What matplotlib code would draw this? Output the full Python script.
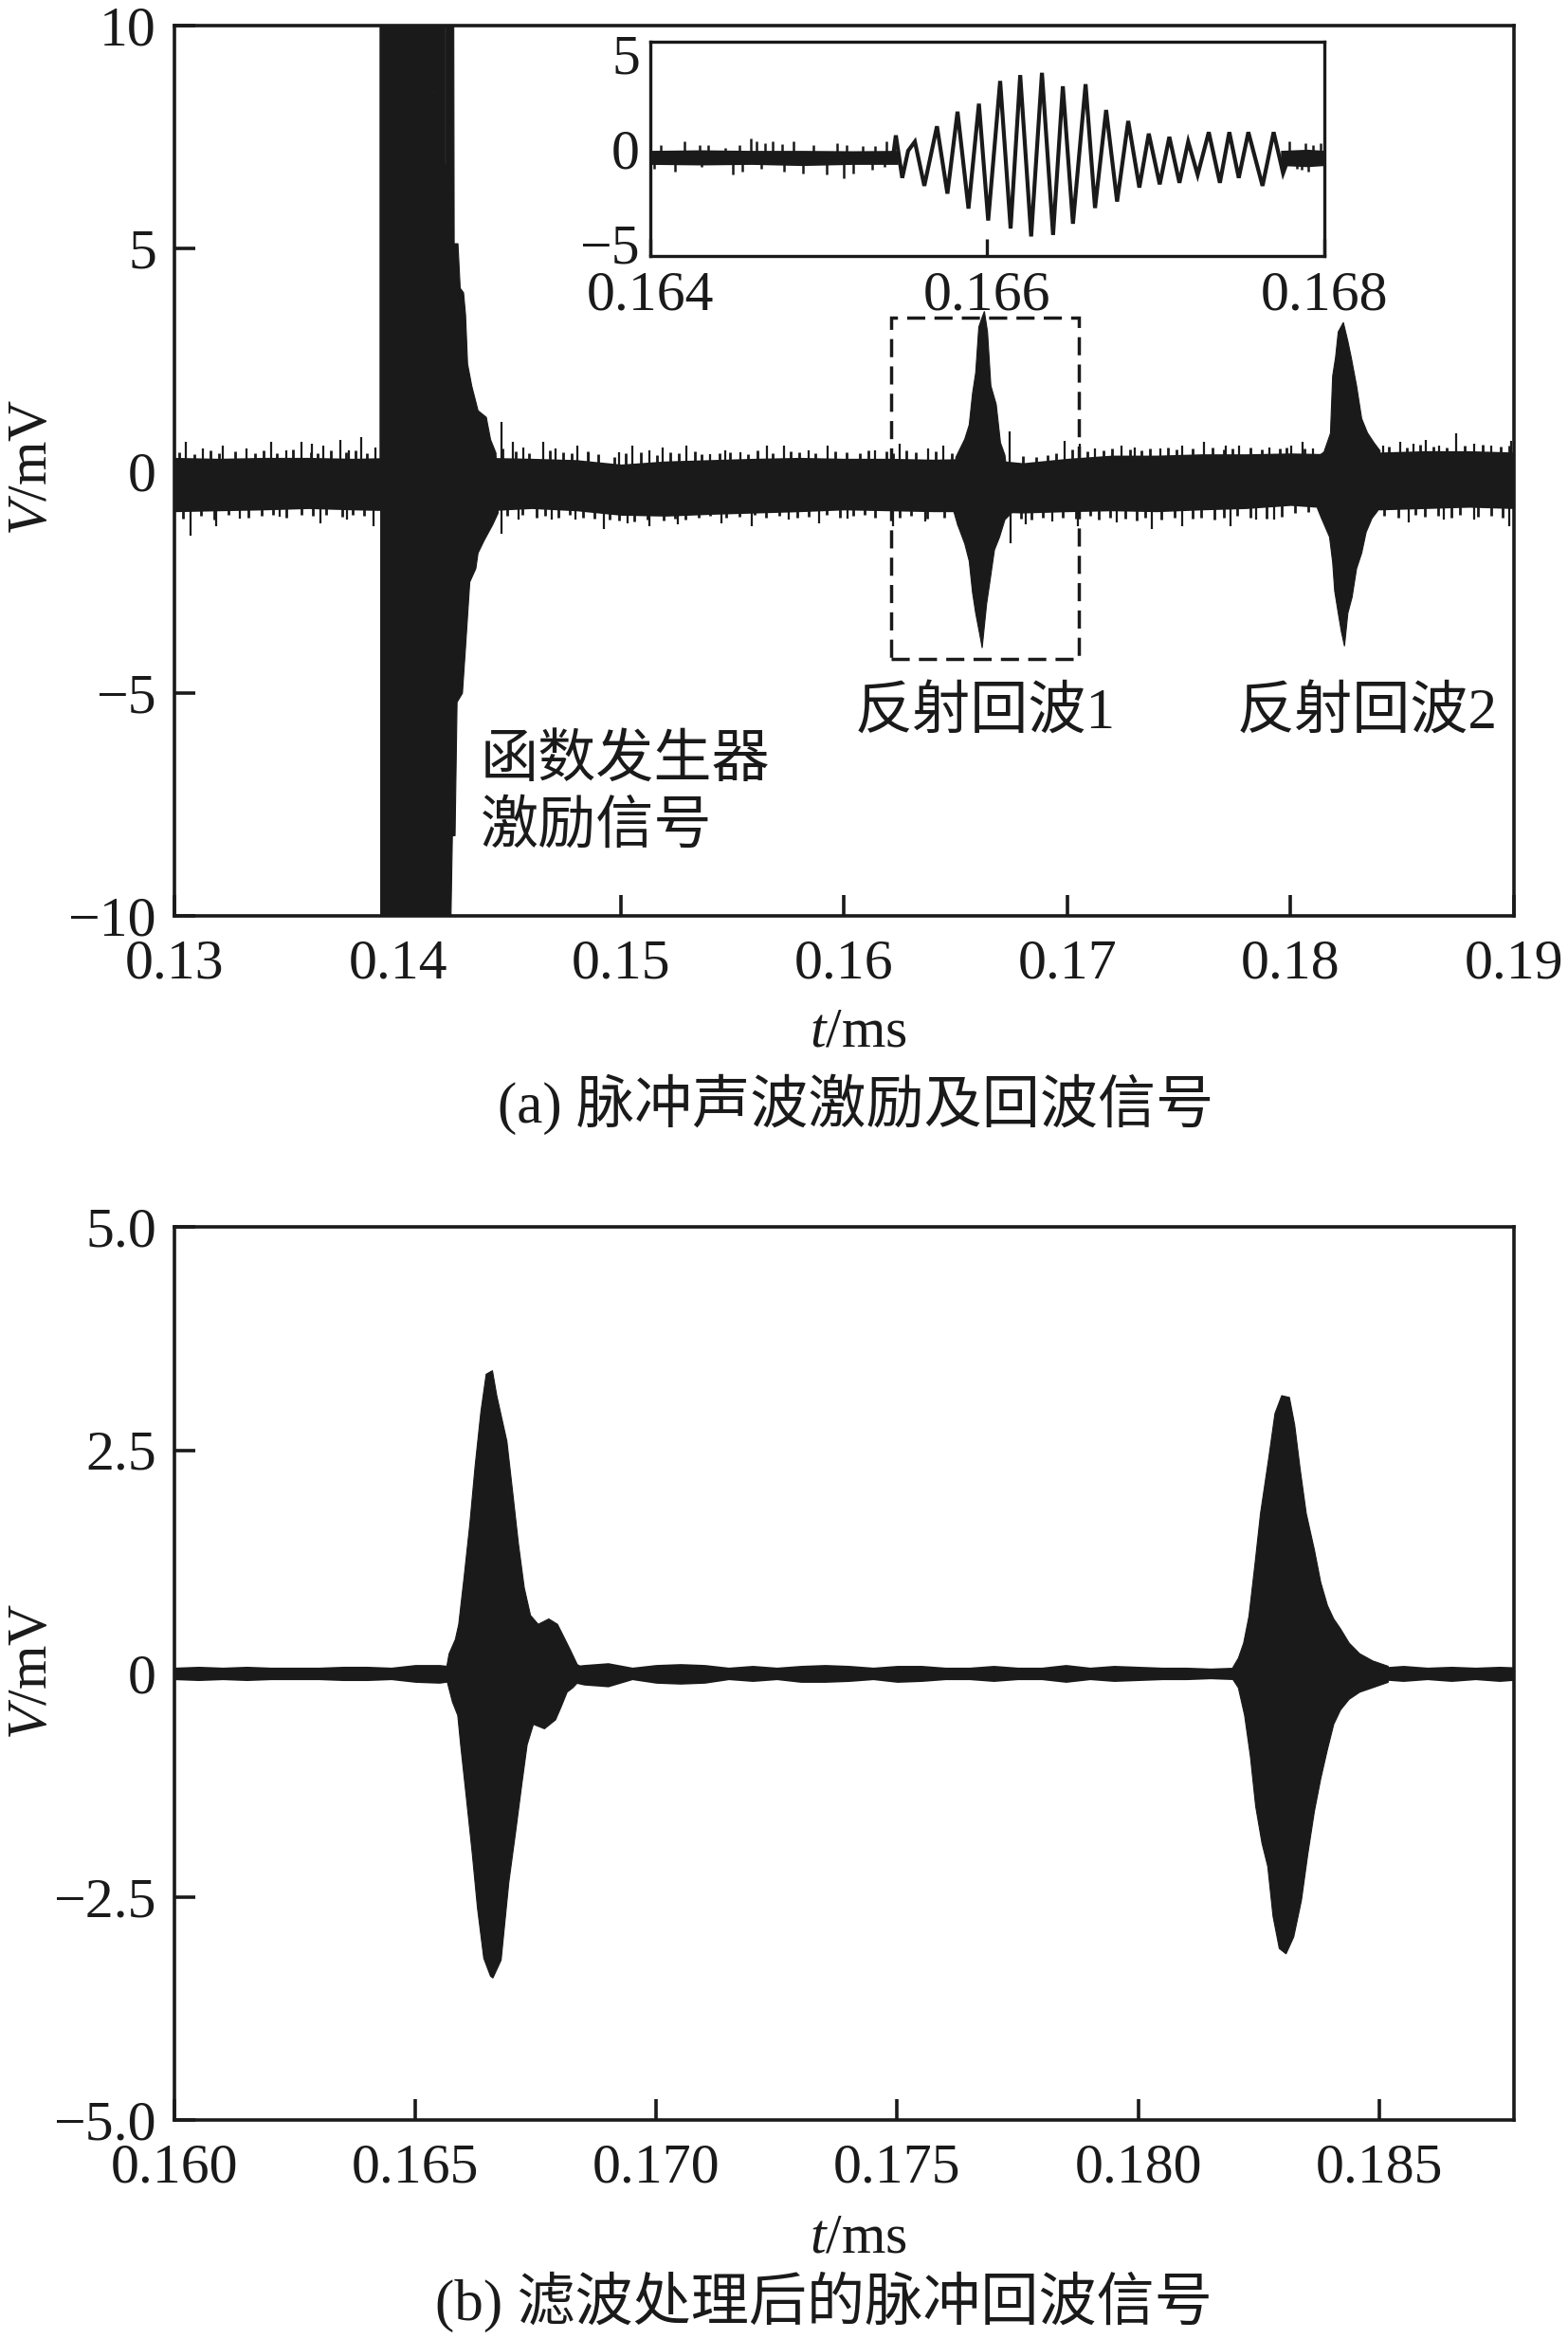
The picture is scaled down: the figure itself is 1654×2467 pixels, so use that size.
import numpy as np
import matplotlib
matplotlib.use('Agg')
import matplotlib.pyplot as plt
from matplotlib.patches import Rectangle

# ---------------- data ----------------
# (a) raw signal: dense noise core
band_t  = [0.130, 0.132, 0.134, 0.136, 0.138, 0.140, 0.142, 0.144, 0.146, 0.148, 0.150,
           0.152, 0.154, 0.156, 0.158, 0.160, 0.162, 0.164, 0.166, 0.168, 0.170, 0.172,
           0.174, 0.176, 0.178, 0.180, 0.182, 0.184, 0.186, 0.188, 0.190]
band_hi = [0.30, 0.28, 0.30, 0.30, 0.28, 0.30, 0.30, 0.30, 0.28, 0.25, 0.15,
           0.22, 0.25, 0.28, 0.30, 0.28, 0.28, 0.26, 0.28, 0.18, 0.28, 0.35,
           0.35, 0.38, 0.38, 0.40, 0.38, 0.42, 0.45, 0.45, 0.42]
band_lo = [-0.92, -0.90, -0.88, -0.85, -0.88, -0.90, -0.90, -0.90, -0.85, -0.90, -1.00,
           -1.02, -0.98, -0.95, -0.92, -0.88, -0.90, -0.92, -0.92, -0.95, -0.92, -0.90,
           -0.92, -0.88, -0.85, -0.78, -0.85, -0.88, -0.85, -0.82, -0.85]
# tall noise spikes
spk_up_t = [0.13051, 0.13129, 0.13217, 0.13324, 0.13432, 0.13500, 0.13568, 0.13617, 0.13666,
            0.13744, 0.13783, 0.13837, 0.13900, 0.14465, 0.14514, 0.14563, 0.14650, 0.14709,
            0.14806, 0.14855, 0.14992, 0.15050, 0.15128, 0.15186, 0.15294, 0.15401, 0.15469,
            0.15537, 0.15654, 0.15732, 0.15840, 0.15927, 0.16140, 0.16247, 0.16374, 0.16442,
            0.16740, 0.16988, 0.17057, 0.17125, 0.17242, 0.17300, 0.17417, 0.17515, 0.17612,
            0.17710, 0.17768, 0.17905, 0.18002, 0.18051, 0.18100, 0.18412, 0.18490, 0.18548,
            0.18607, 0.18665, 0.18743, 0.18821, 0.18899, 0.18987]
spk_up_v = [0.64, 0.49, 0.57, 0.49, 0.64, 0.46, 0.64, 0.60, 0.57,
            0.70, 0.46, 0.76, 0.53, 1.10, 0.64, 0.53, 0.64, 0.49,
            0.57, 0.40, 0.42, 0.57, 0.46, 0.53, 0.57, 0.38, 0.46,
            0.42, 0.57, 0.57, 0.46, 0.57, 0.46, 0.60, 0.49, 0.57,
            0.88, 0.67, 0.60, 0.49, 0.57, 0.53, 0.49, 0.57, 0.64,
            0.57, 0.57, 0.53, 0.57, 0.64, 0.49, 0.57, 0.64, 0.60,
            0.70, 0.57, 0.85, 0.60, 0.57, 0.67]
spk_dn_t = [0.13071, 0.13188, 0.13295, 0.13471, 0.13656, 0.13773, 0.13890, 0.14465, 0.14543,
            0.14689, 0.14797, 0.14923, 0.15030, 0.15128, 0.15255, 0.15450, 0.15586, 0.15752,
            0.15888, 0.16013, 0.16218, 0.16364, 0.16511, 0.16745, 0.16813, 0.16930, 0.17047,
            0.17222, 0.17378, 0.17515, 0.17729, 0.17846, 0.17924, 0.18529, 0.18685, 0.18821,
            0.18977]
spk_dn_v = [-1.46, -1.25, -1.07, -1.04, -1.18, -1.10, -1.25, -1.42, -1.10,
            -1.10, -1.10, -1.32, -1.18, -1.25, -1.21, -1.18, -1.25, -1.10,
            -1.18, -1.07, -1.25, -1.14, -1.25, -1.64, -1.21, -1.14, -1.25,
            -1.17, -1.32, -1.25, -1.25, -1.10, -1.10, -1.17, -1.10, -1.10,
            -1.25]
# shorter noise spikes (the ragged edge of the band)
spk2_up_t = [0.1302, 0.1309, 0.1316, 0.1320, 0.1327, 0.1336, 0.1340, 0.1346, 0.1353, 0.1361,
             0.1364, 0.1370, 0.1377, 0.1381, 0.1386, 0.1447, 0.1453, 0.1459, 0.1468, 0.1474,
             0.1478, 0.1485, 0.1490, 0.1497, 0.1502, 0.1509, 0.1516, 0.1522, 0.1526, 0.1533,
             0.1536, 0.1544, 0.1549, 0.1557, 0.1561, 0.1568, 0.1576, 0.1580, 0.1587, 0.1596,
             0.1601, 0.1607, 0.1611, 0.1619, 0.1622, 0.1628, 0.1632, 0.1641, 0.1648, 0.1652,
             0.1680, 0.1686, 0.1691, 0.1695, 0.1702, 0.1709, 0.1716, 0.1720, 0.1728, 0.1733,
             0.1737, 0.1745, 0.1749, 0.1756, 0.1765, 0.1770, 0.1774, 0.1782, 0.1787, 0.1795,
             0.1798, 0.1806, 0.1844, 0.1852, 0.1858, 0.1864, 0.1870, 0.1878, 0.1886, 0.1894,
             0.1898]
spk2_up_v = [0.42, 0.38, 0.45, 0.40, 0.44, 0.40, 0.46, 0.40, 0.48, 0.42,
             0.40, 0.46, 0.42, 0.45, 0.40, 0.50, 0.44, 0.40, 0.46, 0.42,
             0.40, 0.44, 0.38, 0.30, 0.40, 0.42, 0.36, 0.42, 0.40, 0.44,
             0.38, 0.40, 0.42, 0.38, 0.45, 0.40, 0.44, 0.42, 0.40, 0.44,
             0.42, 0.40, 0.45, 0.44, 0.40, 0.46, 0.42, 0.44, 0.40, 0.42,
             0.34, 0.30, 0.36, 0.40, 0.48, 0.44, 0.46, 0.50, 0.48, 0.46,
             0.50, 0.52, 0.48, 0.50, 0.52, 0.48, 0.50, 0.52, 0.48, 0.50,
             0.52, 0.50, 0.55, 0.52, 0.58, 0.55, 0.52, 0.56, 0.58, 0.54,
             0.56]
spk2_dn_t = [0.1304, 0.1312, 0.1318, 0.1324, 0.1333, 0.1339, 0.1344, 0.1350, 0.1357, 0.1362,
             0.1368, 0.1375, 0.1380, 0.1385, 0.1449, 0.1456, 0.1462, 0.1466, 0.1472, 0.1477,
             0.1483, 0.1488, 0.1495, 0.1499, 0.1506, 0.1512, 0.1519, 0.1524, 0.1529, 0.1535,
             0.1540, 0.1547, 0.1553, 0.1560, 0.1565, 0.1571, 0.1579, 0.1584, 0.1592, 0.1598,
             0.1604, 0.1609, 0.1614, 0.1625, 0.1630, 0.1637, 0.1645, 0.1679, 0.1684, 0.1689,
             0.1698, 0.1704, 0.1710, 0.1714, 0.1719, 0.1726, 0.1731, 0.1735, 0.1742, 0.1748,
             0.1756, 0.1760, 0.1766, 0.1770, 0.1776, 0.1782, 0.1789, 0.1796, 0.1802, 0.1808,
             0.1842, 0.1848, 0.1856, 0.1860, 0.1866, 0.1872, 0.1876, 0.1884, 0.1890, 0.1895]
spk2_dn_v = [-1.08, -1.02, -1.10, -1.00, -1.05, -1.02, -1.00, -1.06, -0.98, -1.02,
             -1.00, -1.04, -0.98, -1.02, -1.02, -1.00, -1.05, -1.02, -1.06, -1.00,
             -1.05, -1.08, -1.10, -1.12, -1.15, -1.10, -1.12, -1.08, -1.10, -1.05,
             -1.02, -1.06, -1.04, -1.00, -1.05, -1.02, -1.06, -1.04, -1.00, -1.05,
             -1.02, -1.00, -1.05, -1.06, -1.02, -1.08, -1.05, -1.08, -1.10, -1.06,
             -1.05, -1.08, -1.02, -1.10, -1.05, -1.08, -1.12, -1.06, -1.10, -1.05,
             -1.08, -1.06, -1.10, -1.05, -1.02, -1.06, -1.08, -1.04, -0.95, -0.92,
             -1.02, -1.06, -1.00, -1.04, -1.02, -1.06, -1.00, -1.04, -1.02, -1.06]
# excitation burst (clipped at the axis limits)
exc_up_t = [0.13921, 0.13921, 0.14157, 0.14157, 0.14161, 0.14161, 0.14211, 0.14211, 0.14216,
            0.14216, 0.14251, 0.14253, 0.14270, 0.14280, 0.14295, 0.14304, 0.14313, 0.14332,
            0.14360, 0.14397, 0.14416, 0.14440]
exc_up_v = [0.3, 10.5, 10.5, 8.5, 8.5, 10.5, 10.5, 6.9, 6.9,
            10.5, 10.5, 5.1, 5.1, 4.1, 4.0, 3.5, 2.4, 1.9,
            1.35, 1.2, 0.7, 0.4]
exc_lo_t = [0.13924, 0.13924, 0.14237, 0.14245, 0.14257, 0.14266, 0.14290, 0.14304, 0.14323,
            0.14350, 0.14360, 0.14387, 0.14426, 0.14450]
exc_lo_v = [-0.9, -10.5, -10.5, -8.2, -8.2, -5.2, -5.0, -3.96, -2.5,
            -2.2, -1.85, -1.57, -1.21, -0.95]
# reflected echo 1 and 2 (envelopes)
e1_up_t = [0.16500, 0.16540, 0.16560, 0.16575, 0.16589, 0.16603, 0.16618, 0.16628, 0.16642,
           0.16657, 0.16681, 0.16700, 0.16720]
e1_up_v = [0.30, 0.71, 1.03, 1.74, 2.20, 3.23, 3.45, 3.58, 3.12, 1.91, 1.49, 0.63, 0.35]
e1_lo_t = [0.16490, 0.16508, 0.16540, 0.16560, 0.16575, 0.16589, 0.16608, 0.16618, 0.16638,
           0.16653, 0.16673, 0.16696, 0.16720, 0.16750]
e1_lo_v = [-0.90, -1.21, -1.64, -2.03, -2.74, -3.20, -3.70, -3.98, -2.99,
           -2.48, -1.78, -1.49, -1.10, -0.95]
e2_up_t = [0.18130, 0.18149, 0.18178, 0.18188, 0.18201, 0.18213, 0.18236, 0.18256, 0.18271,
           0.18295, 0.18318, 0.18344, 0.18373, 0.18400]
e2_up_v = [0.35, 0.42, 0.84, 2.13, 2.55, 3.12, 3.33, 2.91, 2.55, 1.91, 1.17, 0.85, 0.63, 0.45]
e2_lo_t = [0.18120, 0.18138, 0.18174, 0.18188, 0.18197, 0.18213, 0.18227, 0.18241, 0.18256,
           0.18275, 0.18295, 0.18318, 0.18338, 0.18364, 0.18390]
e2_lo_v = [-0.85, -1.07, -1.49, -2.06, -2.70, -3.20, -3.62, -3.94, -3.20,
           -2.84, -2.20, -1.85, -1.38, -1.07, -0.90]
zoom_box = (0.16209, 0.17051, -4.23, 3.44)   # t0, t1, v0, v1

# inset: echo 1 enlarged
ins_n1_t  = [0.16400, 0.16430, 0.16460, 0.16490, 0.16520, 0.16547]
ins_n1_hi = [-0.08, -0.05, -0.08, -0.08, -0.10, -0.08]
ins_n1_lo = [-0.82, -0.85, -0.82, -0.88, -0.82, -0.82]
ins_n2_t  = [0.16774, 0.16790, 0.16800]
ins_n2_hi = [-0.08, -0.02, -0.08]
ins_n2_lo = [-0.88, -0.94, -0.88]
ins_up_t = [0.164060, 0.164201, 0.164294, 0.164341, 0.164444, 0.164529, 0.164594, 0.164632,
            0.164679, 0.164726, 0.164782, 0.164848, 0.164970, 0.165110, 0.165166, 0.165260,
            0.165335, 0.165401, 0.167792, 0.167886, 0.167933, 0.167980]
ins_up_v = [0.22, 0.39, 0.22, 0.18, 0.05, 0.22, 0.55, 0.39,
            0.30, 0.39, 0.25, 0.39, 0.22, 0.30, 0.22, 0.14,
            0.14, 0.39, 0.39, 0.30, 0.22, 0.30]
ins_dn_t = [0.164023, 0.164144, 0.164304, 0.164491, 0.164548, 0.164660, 0.164791, 0.164904,
            0.165045, 0.165148, 0.165204, 0.165316, 0.165391, 0.167839, 0.167867, 0.167905]
ins_dn_v = [-1.03, -1.20, -0.95, -1.37, -1.20, -1.03, -1.20, -1.28,
            -1.37, -1.53, -1.28, -1.11, -0.95, -1.03, -1.11, -1.20]
ins_wave_t = [0.165440, 0.165457, 0.165495, 0.165530, 0.165570, 0.165626, 0.165701, 0.165763,
              0.165823, 0.165888, 0.165950, 0.166005, 0.166076, 0.166138, 0.166195, 0.166260,
              0.166324, 0.166390, 0.166448, 0.166508, 0.166583, 0.166639, 0.166705, 0.166770,
              0.166836, 0.166902, 0.166958, 0.167023, 0.167080, 0.167140, 0.167192, 0.167248,
              0.167314, 0.167380, 0.167436, 0.167492, 0.167549, 0.167633, 0.167699, 0.167755,
              0.167790]
ins_wave_v = [-0.42, 0.71, -1.53, -0.10, 0.38, -1.95, 1.19, -2.36,
              1.96, -3.15, 2.38, -3.78, 3.58, -4.20, 3.89, -4.62,
              4.01, -4.54, 3.30, -3.95, 3.41, -3.12, 2.05, -2.78,
              1.47, -2.04, 0.80, -1.87, 0.63, -1.79, 0.38, -1.37,
              0.88, -1.79, 0.88, -1.53, 0.88, -1.95, 0.88, -1.28,
              -0.42]

# (b) filtered signal
b_t  = [0.1600, 0.1605, 0.1610, 0.1615, 0.1620, 0.1625, 0.1630, 0.1635, 0.1640, 0.1645,
        0.1650, 0.1655, 0.1660, 0.1665, 0.1670, 0.1675, 0.1680, 0.1685, 0.1690, 0.1695,
        0.1700, 0.1705, 0.1710, 0.1715, 0.1720, 0.1725, 0.1730, 0.1735, 0.1740, 0.1745,
        0.1750, 0.1755, 0.1760, 0.1765, 0.1770, 0.1775, 0.1780, 0.1785, 0.1790, 0.1795,
        0.1800, 0.1805, 0.1810, 0.1815, 0.1820, 0.1825, 0.1830, 0.1835, 0.1840, 0.1845,
        0.1850, 0.1855, 0.1860, 0.1865, 0.1870, 0.1875, 0.1880]
b_hi = [0.07, 0.08, 0.07, 0.08, 0.07, 0.07, 0.07, 0.08, 0.08, 0.07,
        0.10, 0.10, 0.07, 0.07, 0.07, 0.07, 0.07, 0.10, 0.12, 0.07,
        0.10, 0.11, 0.10, 0.07, 0.09, 0.07, 0.09, 0.10, 0.09, 0.07,
        0.09, 0.09, 0.07, 0.07, 0.09, 0.07, 0.07, 0.10, 0.07, 0.09,
        0.08, 0.07, 0.07, 0.06, 0.07, 0.07, 0.07, 0.07, 0.07, 0.07,
        0.07, 0.09, 0.07, 0.08, 0.07, 0.08, 0.07]
b_lo = [-0.07, -0.08, -0.07, -0.08, -0.07, -0.07, -0.07, -0.08, -0.08, -0.07,
        -0.10, -0.11, -0.07, -0.07, -0.07, -0.07, -0.07, -0.13, -0.15, -0.07,
        -0.11, -0.12, -0.11, -0.07, -0.09, -0.07, -0.10, -0.10, -0.09, -0.07,
        -0.10, -0.09, -0.07, -0.07, -0.09, -0.07, -0.07, -0.10, -0.07, -0.09,
        -0.08, -0.07, -0.07, -0.06, -0.07, -0.07, -0.07, -0.07, -0.07, -0.07,
        -0.07, -0.09, -0.07, -0.09, -0.07, -0.09, -0.07]
be1_up_t = [0.16565, 0.16570, 0.16583, 0.16590, 0.16601, 0.16613, 0.16624, 0.16636, 0.16647,
            0.16660, 0.16669, 0.16690, 0.16702, 0.16714, 0.16726, 0.16739, 0.16755, 0.16777,
            0.16795, 0.16809, 0.16821, 0.16836, 0.16845]
be1_up_v = [0.07, 0.22, 0.38, 0.55, 1.07, 1.67, 2.32, 2.93, 3.35,
            3.39, 3.11, 2.60, 2.03, 1.45, 0.96, 0.65, 0.55, 0.61,
            0.55, 0.40, 0.27, 0.10, 0.07]
be1_lo_t = [0.16565, 0.16577, 0.16588, 0.16594, 0.16606, 0.16618, 0.16629, 0.16642, 0.16656,
            0.16661, 0.16678, 0.16694, 0.16708, 0.16721, 0.16732, 0.16745, 0.16768, 0.16791,
            0.16803, 0.16815, 0.16827, 0.16841]
be1_lo_v = [-0.07, -0.32, -0.47, -0.80, -1.40, -2.01, -2.63, -3.19, -3.39,
            -3.41, -3.21, -2.34, -1.78, -1.24, -0.80, -0.57, -0.62, -0.52,
            -0.37, -0.21, -0.16, -0.08]
be2_up_t = [0.18197, 0.18208, 0.18219, 0.18230, 0.18242, 0.18254, 0.18271, 0.18284, 0.18298,
            0.18314, 0.18325, 0.18336, 0.18349, 0.18366, 0.18379, 0.18393, 0.18406, 0.18420,
            0.18438, 0.18460, 0.18487, 0.18519]
be2_up_v = [0.07, 0.17, 0.34, 0.64, 1.20, 1.79, 2.41, 2.91, 3.11,
            3.09, 2.78, 2.30, 1.79, 1.38, 1.02, 0.76, 0.61, 0.50,
            0.34, 0.22, 0.14, 0.08]
be2_lo_t = [0.18197, 0.18208, 0.18221, 0.18233, 0.18244, 0.18257, 0.18269, 0.18280, 0.18293,
            0.18307, 0.18323, 0.18339, 0.18352, 0.18366, 0.18379, 0.18393, 0.18406, 0.18420,
            0.18438, 0.18460, 0.18487, 0.18519]
be2_lo_v = [-0.07, -0.16, -0.47, -0.93, -1.49, -1.90, -2.16, -2.72, -3.08,
            -3.14, -2.95, -2.54, -2.03, -1.54, -1.18, -0.85, -0.57, -0.41,
            -0.29, -0.21, -0.16, -0.10]

top_xticks = [0.13, 0.14, 0.15, 0.16, 0.17, 0.18, 0.19]
top_xlabels = ['0.13', '0.14', '0.15', '0.16', '0.17', '0.18', '0.19']
top_yticks = [-10, -5, 0, 5, 10]
top_ylabels = ['\u221210', '\u22125', '0', '5', '10']
ins_xticks = [0.164, 0.166, 0.168]
ins_xlabels = ['0.164', '0.166', '0.168']
ins_yticks = [-5, 0, 5]
ins_ylabels = ['\u22125', '0', '5']
bot_xticks = [0.160, 0.165, 0.170, 0.175, 0.180, 0.185]
bot_xlabels = ['0.160', '0.165', '0.170', '0.175', '0.180', '0.185']
bot_yticks = [-5, -2.5, 0, 2.5, 5]
bot_ylabels = ['\u22125.0', '\u22122.5', '0', '2.5', '5.0']

# ---------------- style ----------------
plt.rcParams['font.family'] = ['Liberation Serif', 'Noto Sans CJK SC']
plt.rcParams['mathtext.fontset'] = 'custom'
plt.rcParams['mathtext.rm'] = 'Liberation Serif'
plt.rcParams['mathtext.it'] = 'Liberation Serif:italic'
plt.rcParams['axes.unicode_minus'] = True

INK = '#1a1a1a'
FS = 43
W, H, DPI = 1654, 2467, 100
fig = plt.figure(figsize=(W / DPI, H / DPI), dpi=DPI)


def box(l, t, r, b):
    return [l / W, 1 - b / H, (r - l) / W, (b - t) / H]


def style_axes(ax, lw=2.6, tl=16, xpad=18, ypad=13.7):
    for s in ax.spines.values():
        s.set_linewidth(lw)
        s.set_color(INK)
    ax.tick_params(direction='in', length=tl, width=lw, color=INK,
                   labelsize=FS, labelcolor=INK, top=False, right=False)
    ax.tick_params(axis='x', pad=xpad)
    ax.tick_params(axis='y', pad=ypad)


def envelope(ax, up_t, up_v, lo_t, lo_v):
    xs = list(up_t) + list(lo_t)[::-1]
    ys = list(up_v) + list(lo_v)[::-1]
    ax.fill(xs, ys, color=INK, lw=0.8, ec=INK)


# ---------------- (a) ----------------
ax1 = fig.add_axes(box(184, 27, 1597, 966))
ax1.fill_between(band_t, band_lo, band_hi, color=INK, lw=0)
ax1.vlines(spk_up_t, -0.3, spk_up_v, color=INK, lw=1.6)
ax1.vlines(spk_dn_t, -0.3, spk_dn_v, color=INK, lw=1.6)
ax1.vlines(spk2_up_t, -0.3, spk2_up_v, color=INK, lw=2.0)
ax1.vlines(spk2_dn_t, -0.3, spk2_dn_v, color=INK, lw=2.0)
envelope(ax1, exc_up_t, exc_up_v, exc_lo_t, exc_lo_v)
envelope(ax1, e1_up_t, e1_up_v, e1_lo_t, e1_lo_v)
envelope(ax1, e2_up_t, e2_up_v, e2_lo_t, e2_lo_v)
t0, t1, v0, v1 = zoom_box
ax1.add_patch(Rectangle((t0, v0), t1 - t0, v1 - v0, fill=False, ec=INK, lw=2.5,
                        ls=(0, (5.5, 2.8)), zorder=3))
ax1.set_xlim(0.13, 0.19)
ax1.set_ylim(-10, 10)
ax1.set_xticks(top_xticks, top_xlabels)
ax1.set_yticks(top_yticks, top_ylabels)
style_axes(ax1)

ax1.text(507 / W, 1 - 803 / H, '函数发生器', transform=fig.transFigure, fontsize=44,
         color=INK, ha='left', va='center')
ax1.text(507 / W, 1 - 873 / H, '激励信号', transform=fig.transFigure, fontsize=44,
         color=INK, ha='left', va='center')
ax1.text(1039 / W, 1 - 752 / H, '反射回波1', transform=fig.transFigure, fontsize=44,
         color=INK, ha='center', va='center')
ax1.text(1442 / W, 1 - 752 / H, '反射回波2', transform=fig.transFigure, fontsize=44,
         color=INK, ha='center', va='center')
fig.text(35 / W, 1 - 493 / H, '$V$/mV', rotation=90, fontsize=FS, color=INK,
         ha='center', va='center')
fig.text(905 / W, 1 - 1090 / H, '$t$/ms', fontsize=FS, color=INK, ha='center', va='center')
fig.text(903 / W, 1 - 1165 / H, '(a) 脉冲声波激励及回波信号', fontsize=44, color=INK,
         ha='center', va='center')

# inset
axi = fig.add_axes(box(686, 44, 1397, 270))
axi.set_facecolor('white')
axi.fill_between(ins_n1_t, ins_n1_lo, ins_n1_hi, color=INK, lw=0)
axi.fill_between(ins_n2_t, ins_n2_lo, ins_n2_hi, color=INK, lw=0)
axi.vlines(ins_up_t, -0.4, ins_up_v, color=INK, lw=1.8)
axi.vlines(ins_dn_t, -0.4, ins_dn_v, color=INK, lw=1.8)
axi.plot(ins_wave_t, ins_wave_v, color=INK, lw=3.0, solid_joinstyle='miter')
axi.set_xlim(0.164, 0.168)
axi.set_ylim(-5.65, 5.65)
axi.set_xticks(ins_xticks, ins_xlabels)
axi.set_yticks(ins_yticks, ins_ylabels)
style_axes(axi, lw=2.4, tl=13, xpad=11, ypad=8)
axi.tick_params(axis='y', length=0)

# ---------------- (b) ----------------
ax2 = fig.add_axes(box(184, 1294, 1597, 2236))
ax2.fill_between(b_t, b_lo, b_hi, color=INK, lw=0)
envelope(ax2, be1_up_t, be1_up_v, be1_lo_t, be1_lo_v)
envelope(ax2, be2_up_t, be2_up_v, be2_lo_t, be2_lo_v)
ax2.set_xlim(0.160, 0.1878)
ax2.set_ylim(-5, 5)
ax2.set_xticks(bot_xticks, bot_xlabels)
ax2.set_yticks(bot_yticks, bot_ylabels)
style_axes(ax2)
fig.text(35 / W, 1 - 1763 / H, '$V$/mV', rotation=90, fontsize=FS, color=INK,
         ha='center', va='center')
fig.text(905 / W, 1 - 2361 / H, '$t$/ms', fontsize=FS, color=INK, ha='center', va='center')
fig.text(869 / W, 1 - 2428 / H, '(b) 滤波处理后的脉冲回波信号', fontsize=44, color=INK,
         ha='center', va='center')

fig.savefig('out.png', dpi=DPI, facecolor='white')
